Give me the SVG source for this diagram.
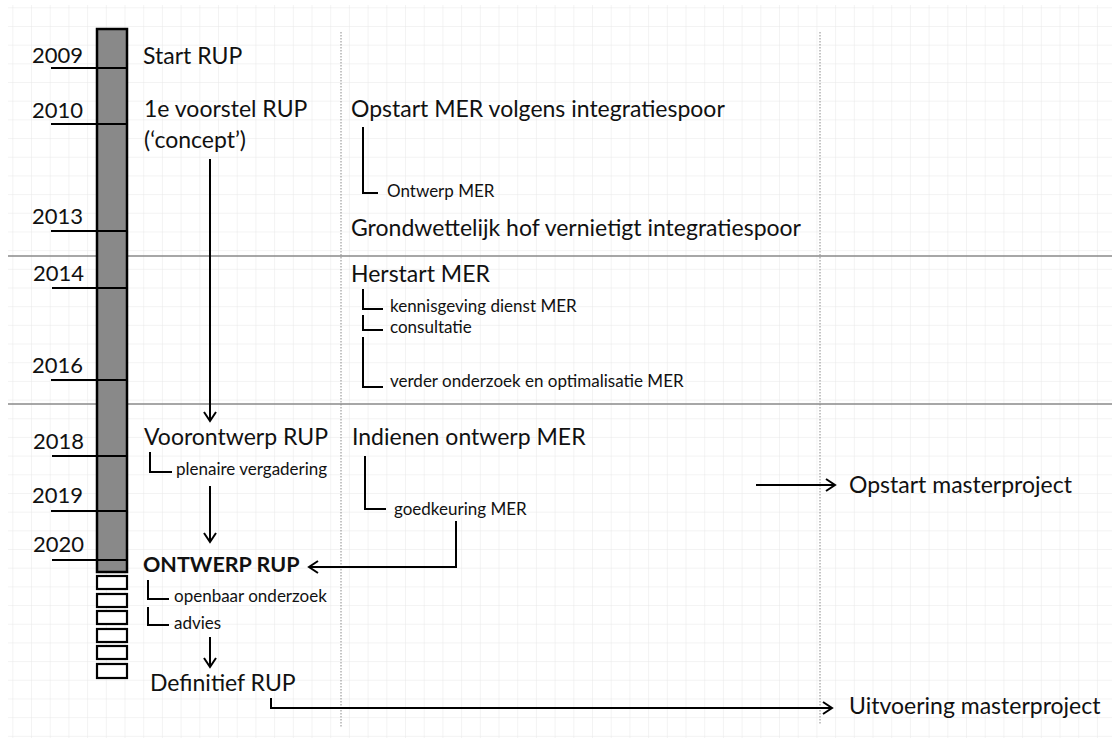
<svg xmlns="http://www.w3.org/2000/svg" width="1112" height="738" viewBox="0 0 1112 738">
<style>
.big{font-family:Lato,"Liberation Sans",sans-serif;font-size:23px;fill:#111}
.bold{font-family:Lato,"Liberation Sans",sans-serif;font-size:21.5px;font-weight:bold;fill:#111}
.sm{font-family:Lato,"Liberation Sans",sans-serif;font-size:17px;fill:#111}
.yr{font-family:Lato,"Liberation Sans",sans-serif;font-size:22px;fill:#111}
.ln{stroke:#000;stroke-width:2;fill:none}
.tick{stroke:#000;stroke-width:2.2}
.sep{stroke:#8a8a8a;stroke-width:1.6}
.dot{stroke:#8a8a8a;stroke-width:1;stroke-dasharray:1.5 1.5}
.arr{stroke:#000;stroke-width:2;fill:none;marker-end:url(#ah)}
</style>
<defs>
<pattern id="grid" x="-5.4" y="7.3" width="18.7" height="18.68" patternUnits="userSpaceOnUse">
<path d="M18.7 0V18.68M0 0H18.7" stroke="#e8e8e8" stroke-width="1" fill="none"/>
</pattern>
<marker id="ah" markerWidth="14" markerHeight="16" refX="10" refY="7" orient="auto" markerUnits="userSpaceOnUse">
<path d="M1,1 L10,7 L1,13" fill="none" stroke="#000" stroke-width="2"/>
</marker>
</defs>
<rect width="1112" height="738" fill="#fff"/>
<rect x="8" y="5" width="1104" height="733" fill="url(#grid)"/>

<g id="separators">
<line class="sep" x1="8" y1="256" x2="1112" y2="256"/>
<line class="sep" x1="8" y1="404" x2="1112" y2="404"/>
<line class="dot" x1="341" y1="32" x2="341" y2="727"/>
<line class="dot" x1="820" y1="32" x2="820" y2="725"/>
</g>

<g id="timeline">
<rect x="97" y="29" width="30" height="543" fill="#898989" stroke="#000" stroke-width="2.5"/>
<g fill="#fff" stroke="#000" stroke-width="2.2">
<rect x="97" y="576" width="30" height="13"/>
<rect x="97" y="594" width="30" height="13"/>
<rect x="97" y="611" width="30" height="13"/>
<rect x="97" y="629" width="30" height="13"/>
<rect x="97" y="646" width="30" height="13"/>
<rect x="97" y="664" width="30" height="14"/>
</g>
</g>

<g id="years">
<line class="tick" x1="51" y1="68" x2="127" y2="68"/>
<line class="tick" x1="51" y1="124" x2="127" y2="124"/>
<line class="tick" x1="51" y1="231" x2="127" y2="231"/>
<line class="tick" x1="52" y1="288" x2="127" y2="288"/>
<line class="tick" x1="51" y1="380" x2="127" y2="380"/>
<line class="tick" x1="52" y1="456" x2="127" y2="456"/>
<line class="tick" x1="51" y1="511" x2="127" y2="511"/>
<line class="tick" x1="52" y1="560" x2="127" y2="560"/>
<text class="yr" x="32" y="63">2009</text>
<text class="yr" x="32" y="118">2010</text>
<text class="yr" x="32" y="224">2013</text>
<text class="yr" x="33" y="281">2014</text>
<text class="yr" x="32" y="373">2016</text>
<text class="yr" x="33" y="449">2018</text>
<text class="yr" x="32" y="503">2019</text>
<text class="yr" x="33" y="552">2020</text>
</g>

<g id="rup-start"><text class="big" x="143" y="64">Start RUP</text></g>
<g id="rup-voorstel"><text class="big" x="144" y="117">1e voorstel RUP</text><text class="big" x="144" y="148">(‘concept’)</text></g>
<g id="rup-voorontwerp"><text class="big" x="144" y="445">Voorontwerp RUP</text></g>
<g id="rup-plenair"><text class="sm" x="176" y="475">plenaire vergadering</text></g>
<g id="rup-ontwerp"><text class="bold" x="143" y="572">ONTWERP RUP</text></g>
<g id="rup-openbaar"><text class="sm" x="174" y="602">openbaar onderzoek</text></g>
<g id="rup-advies"><text class="sm" x="174" y="629">advies</text></g>
<g id="rup-definitief"><text class="big" x="150" y="691">Definitief RUP</text></g>

<g id="mer-opstart"><text class="big" x="351" y="117">Opstart MER volgens integratiespoor</text></g>
<g id="mer-ontwerp"><text class="sm" x="387" y="197">Ontwerp MER</text></g>
<g id="mer-hof"><text class="big" x="351" y="236">Grondwettelijk hof vernietigt integratiespoor</text></g>
<g id="mer-herstart"><text class="big" x="351" y="282">Herstart MER</text></g>
<g id="mer-kennis"><text class="sm" x="390" y="312">kennisgeving dienst MER</text></g>
<g id="mer-consult"><text class="sm" x="390" y="333">consultatie</text></g>
<g id="mer-verder"><text class="sm" x="390" y="387">verder onderzoek en optimalisatie MER</text></g>
<g id="mer-indienen"><text class="big" x="352" y="445">Indienen ontwerp MER</text></g>
<g id="mer-goedkeuring"><text class="sm" x="394" y="515">goedkeuring MER</text></g>

<g id="mp-opstart"><text class="big" x="849" y="493">Opstart masterproject</text></g>
<g id="mp-uitvoering"><text class="big" x="849" y="714">Uitvoering masterproject</text></g>

<g id="connectors">
<path class="arr" d="M210,159 V421"/>
<path class="ln" d="M150,452 V472 H172"/>
<path class="arr" d="M210,486 V542"/>
<path class="arr" d="M456,521 V567 H309"/>
<path class="ln" d="M148,580 V599 H169"/>
<path class="ln" d="M148,607 V625 H169"/>
<path class="arr" d="M210,637 V667"/>
<path class="arr" d="M271,698 V708 H832"/>
<path class="arr" d="M756,485 H835"/>
<path class="ln" d="M363,127 V193 H378"/>
<path class="ln" d="M363,289 V309 H383"/>
<path class="ln" d="M363,315 V330 H383"/>
<path class="ln" d="M363,337 V387 H383"/>
<path class="ln" d="M365,456 V509 H386"/>
</g>
</svg>
